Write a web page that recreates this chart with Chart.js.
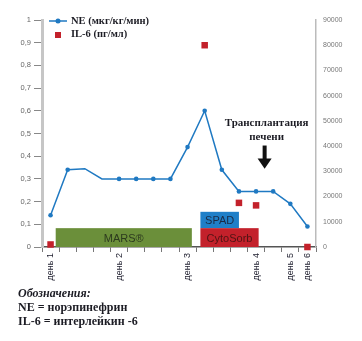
<!DOCTYPE html>
<html>
<head>
<meta charset="utf-8">
<script src="https://cdn.jsdelivr.net/npm/chart.js@4/dist/chart.umd.min.js"></script>
<style>
  body { margin: 0; background: #fff; }
  #wrap { position: relative; width: 362px; height: 341px; }
  .notes { position: absolute; left: 18px; top: 286px; font-family: 'Liberation Serif', serif; font-weight: bold; font-size: 12px; line-height: 14px; color: #1c1c24; }
  .notes .title { font-style: italic; }
</style>
</head>
<body>
<div id="wrap">
  <canvas id="myChart" width="362" height="341"></canvas>
  <div class="notes">
    <div class="title">Обозначения:</div>
    <div>NE = норэпинефрин</div>
    <div>IL-6 = интерлейкин -6</div>
  </div>
</div>
<script>
'use strict';

// 16 time points, only some of them carry a day label
const labels = ['день 1', '', '', '', 'день 2', '', '', '', 'день 3', '', '', '', 'день 4', '', 'день 5', 'день 6'];
const neValues = [0.14, 0.34, 0.345, 0.3, 0.3, 0.3, 0.3, 0.3, 0.44, 0.6, 0.34, 0.245, 0.245, 0.245, 0.19, 0.09];
const neMarked = [true, true, false, false, true, true, true, true, true, true, true, true, true, true, true, true];
const il6Values = [1000, null, null, null, null, null, null, null, null, 80000, null, 17500, 16500, null, null, 0];

const neMin = 0, neMax = 1, neStep = 0.1;
const il6Min = 0, il6Max = 90000, il6Step = 10000;

// therapies, start/end as positions on the time axis
const therapyNames = ['MARS®', 'SPAD', 'CytoSorb'];
const therapyStart = [0.3, 8.75, 8.75];
const therapyEnd = [8.25, 11, 12.15];

const BLUE = '#1f79c2';
const RED = '#c3212b';

const therapyPlugin = {
  id: 'therapies',
  beforeDatasetsDraw(chart) {
    const c = chart.ctx;
    const x = chart.scales.x;
    const y = chart.scales.y;
    const fills = ['#6b8f3a', '#1f7fc8', '#c3212b'];
    const texts = ['#2c3a1e', '#1a2a44', '#501414'];
    const rows = [0, 1, 0];
    const band = 0.083;
    c.save();
    for (let i = 0; i < therapyNames.length; i++) {
      const x1 = x.getPixelForValue(therapyStart[i]);
      const x2 = x.getPixelForValue(therapyEnd[i]);
      const yTop = y.getPixelForValue(band * (rows[i] + 1) - (rows[i] ? 0.011 : 0));
      const yBot = y.getPixelForValue(band * rows[i]);
      c.fillStyle = fills[i];
      c.fillRect(x1, yTop, x2 - x1, yBot - yTop);
      c.fillStyle = texts[i];
      c.font = '11px "Liberation Sans", Arial, sans-serif';
      c.textAlign = 'center';
      c.textBaseline = 'middle';
      c.fillText(therapyNames[i], (x1 + x2) / 2, (yTop + yBot) / 2 + 1);
    }
    c.restore();
  }
};

const notesPlugin = {
  id: 'notes',
  afterDraw(chart) {
    const c = chart.ctx;
    const x = chart.scales.x;
    const y = chart.scales.y;
    c.save();
    // legend
    const lx = chart.chartArea.left + 7;
    const ly = chart.chartArea.top + 1;
    c.strokeStyle = BLUE;
    c.lineWidth = 1.5;
    c.beginPath();
    c.moveTo(lx, ly);
    c.lineTo(lx + 18, ly);
    c.stroke();
    c.fillStyle = BLUE;
    c.beginPath();
    c.arc(lx + 9, ly, 2.5, 0, Math.PI * 2);
    c.fill();
    c.fillStyle = RED;
    c.fillRect(lx + 6, ly + 11, 6, 6);
    c.fillStyle = '#1c1c24';
    c.font = 'bold 10.5px "Liberation Serif", serif';
    c.textAlign = 'left';
    c.textBaseline = 'middle';
    c.fillText('NE (мкг/кг/мин)', lx + 22, ly);
    c.fillText('IL-6 (пг/мл)', lx + 22, ly + 13);

    // transplant marker
    const ax = x.getPixelForValue(12.5);
    c.font = 'bold 11px "Liberation Serif", serif';
    c.textAlign = 'center';
    c.fillText('Трансплантация', ax + 2, y.getPixelForValue(0.545));
    c.fillText('печени', ax + 2, y.getPixelForValue(0.486));
    const top = y.getPixelForValue(0.447);
    const mid = y.getPixelForValue(0.39);
    const tip = y.getPixelForValue(0.345);
    c.fillStyle = '#111';
    c.fillRect(ax - 2, top, 4, mid - top + 1);
    c.beginPath();
    c.moveTo(ax - 7, mid);
    c.lineTo(ax + 7, mid);
    c.lineTo(ax, tip);
    c.closePath();
    c.fill();
    c.restore();
  }
};

function generateChart() {
  const ctx = document.getElementById('myChart').getContext('2d');
  Chart.defaults.font.family = '"Liberation Sans", Arial, sans-serif';
  new Chart(ctx, {
    type: 'line',
    data: {
      labels: labels,
      datasets: [{
        label: 'NE (мкг/кг/мин)',
        data: neValues,
        yAxisID: 'y',
        borderColor: BLUE,
        backgroundColor: BLUE,
        borderWidth: 1.5,
        pointRadius: (c) => neMarked[c.dataIndex] ? 2.3 : 0,
        pointBorderWidth: 0,
        tension: 0,
        clip: false,
      },
      {
        label: 'IL-6 (пг/мл)',
        data: il6Values,
        yAxisID: 'y1',
        showLine: false,
        pointStyle: 'rect',
        pointRadius: 4.6,
        pointBorderWidth: 0,
        backgroundColor: RED,
        borderColor: RED,
        clip: false,
      }]
    },
    options: {
      responsive: false,
      animation: false,
      layout: {padding: {top: 20, left: 0, right: 0, bottom: 0}},
      plugins: {legend: {display: false}, tooltip: {enabled: false}},
      scales: {
        x: {
          offset: true,
          grid: {offset: true, drawOnChartArea: false, tickLength: 5, color: '#777'},
          border: {color: '#555', width: 1.5},
          ticks: {
            autoSkip: false, minRotation: 90, maxRotation: 90, padding: 1,
            color: '#1c1c2c', font: {size: 9},
          },
          afterFit(scale) { scale.height = 94; },
        },
        y: {
          position: 'left',
          min: neMin, max: neMax,
          grid: {drawOnChartArea: false, tickLength: 8, color: '#888'},
          border: {color: '#c6c6c6', width: 3},
          ticks: {
            stepSize: neStep, padding: 3, color: '#666', font: {size: 7.5},
            callback: (v) => (v === 0 || v === 1) ? String(v) : v.toFixed(1).replace('.', ','),
          },
          afterFit(scale) { scale.width = 42; },
        },
        y1: {
          position: 'right',
          min: il6Min, max: il6Max,
          grid: {drawOnChartArea: false, drawTicks: false},
          border: {color: '#bbb', width: 1.5},
          ticks: {stepSize: il6Step, padding: 7, color: '#777', font: {size: 7}, callback: (v) => String(v)},
          afterFit(scale) { scale.width = 46; },
        }
      }
    },
    plugins: [therapyPlugin, notesPlugin],
  });
}

generateChart();
</script>
</body>
</html>
